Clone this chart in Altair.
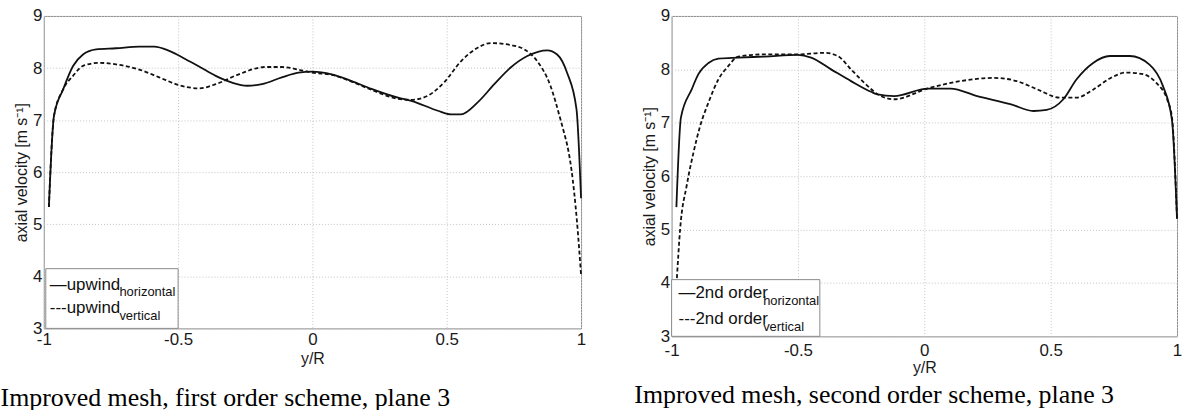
import altair as alt
import pandas as pd

# ---------------- data ----------------
# Left panel: improved mesh, first order (upwind) scheme, plane 3
up_h_x = [-0.981, -0.962, -0.928, -0.891, -0.854, -0.805, -0.731, -0.644, -0.589, -0.533,
          -0.472, -0.422, -0.360, -0.299, -0.243, -0.188, -0.114, -0.052, 0.0, 0.072,
          0.146, 0.220, 0.319, 0.368, 0.467, 0.516, 0.553, 0.615, 0.677, 0.738,
          0.800, 0.874, 0.911, 0.948, 0.983, 1.0]
up_h_v = [5.33, 7.08, 7.59, 8.04, 8.26, 8.36, 8.38, 8.41, 8.41, 8.33,
          8.17, 8.03, 7.85, 7.72, 7.66, 7.69, 7.82, 7.91, 7.93, 7.88,
          7.75, 7.60, 7.43, 7.37, 7.18, 7.11, 7.11, 7.34, 7.69, 8.01,
          8.23, 8.34, 8.26, 7.91, 7.21, 5.50]
up_v_x = [-0.981, -0.962, -0.928, -0.891, -0.854, -0.793, -0.731, -0.644, -0.570, -0.496,
          -0.422, -0.360, -0.274, -0.175, -0.114, -0.052, 0.0, 0.072, 0.146, 0.220,
          0.319, 0.368, 0.430, 0.491, 0.553, 0.615, 0.664, 0.738, 0.788, 0.837,
          0.886, 0.923, 0.933, 0.954, 0.964, 0.985, 1.0]
up_v_v = [5.33, 7.08, 7.59, 7.85, 8.04, 8.10, 8.07, 7.97, 7.82, 7.67,
          7.61, 7.69, 7.88, 8.02, 8.02, 7.97, 7.91, 7.87, 7.74, 7.58,
          7.41, 7.39, 7.47, 7.73, 8.13, 8.39, 8.48, 8.44, 8.36, 8.13,
          7.66, 7.02, 6.83, 6.38, 6.06, 5.04, 4.03]

# Right panel: improved mesh, second order scheme, plane 3
so_h_x = [-0.981, -0.963, -0.920, -0.894, -0.854, -0.815, -0.736, -0.631, -0.500, -0.448,
          -0.369, -0.290, -0.211, -0.185, -0.119, 0.012, 0.104, 0.209, 0.340, 0.432,
          0.484, 0.550, 0.602, 0.668, 0.734, 0.813, 0.891, 0.944, 0.980, 1.0]
so_h_v = [5.42, 7.10, 7.63, 7.91, 8.12, 8.20, 8.22, 8.24, 8.27, 8.22,
          8.00, 7.78, 7.58, 7.53, 7.50, 7.64, 7.64, 7.50, 7.35, 7.22,
          7.24, 7.44, 7.81, 8.12, 8.25, 8.25, 8.09, 7.69, 7.05, 5.20]
so_v_x = [-0.979, -0.966, -0.940, -0.913, -0.887, -0.854, -0.815, -0.776, -0.736, -0.631,
          -0.500, -0.395, -0.343, -0.290, -0.238, -0.172, -0.119, 0.012, 0.143, 0.274,
          0.366, 0.445, 0.537, 0.602, 0.668, 0.734, 0.799, 0.865, 0.917, 0.963,
          0.980, 1.0]
so_v_v = [4.09, 5.02, 5.83, 6.45, 6.94, 7.38, 7.81, 8.06, 8.24, 8.28,
          8.28, 8.31, 8.25, 8.00, 7.75, 7.50, 7.44, 7.64, 7.78, 7.84,
          7.78, 7.63, 7.47, 7.47, 7.62, 7.83, 7.94, 7.91, 7.75, 7.41,
          7.10, 5.20]

x_ticks = [-1, -0.5, 0, 0.5, 1]
y_ticks = [3, 4, 5, 6, 7, 8, 9]
captions = ["Improved mesh, first order scheme, plane 3",
            "Improved mesh, second order scheme, plane 3"]
legend_main = [["\u2014upwind", "---upwind"], ["\u2014" + "2nd order", "---2nd order"]]
legend_sub = [["horizontal", "vertical"], ["horizontal", "vertical"]]

SANS = "Liberation Sans"
SERIF = "Liberation Serif"


def panel(hx, hv, vx, vv, width, height, mains, subs, box, main_x, sub_x, ys,
          caption, lab_pad, title_pad, cap_offset, cap_dx):
    xenc = alt.X("x:Q", scale=alt.Scale(domain=[-1, 1], nice=False, zero=False),
                 axis=alt.Axis(values=x_ticks, title="y/R", labelExpr="toString(datum.value)",
                               labelFlush=False, labelPadding=lab_pad, titlePadding=title_pad))
    yenc = alt.Y("v:Q", scale=alt.Scale(domain=[3, 9], nice=False, zero=False),
                 axis=alt.Axis(values=y_ticks, title="axial velocity [m s\u207b\u00b9]",
                               labelExpr="toString(datum.value)",
                               labelPadding=2, titlePadding=3))
    solid = alt.Chart(pd.DataFrame({"x": hx, "v": hv})).mark_line(
        color="#111111", strokeWidth=1.8, interpolate="monotone").encode(x=xenc, y=yenc)
    dashed = alt.Chart(pd.DataFrame({"x": vx, "v": vv})).mark_line(
        color="#111111", strokeWidth=1.8, strokeDash=[4, 2.5], interpolate="monotone"
    ).encode(x="x:Q", y="v:Q")
    base = alt.Chart(pd.DataFrame({"a": [0]}))
    rect = base.mark_rect(fill="white", stroke="#8a8a8a", strokeWidth=1).encode(
        x=alt.value(box[0]), x2=alt.value(box[1]), y=alt.value(box[2]), y2=alt.value(box[3]))
    layers = [solid, dashed, rect]
    for i in range(2):
        layers.append(base.mark_text(align="left", baseline="alphabetic", font=SANS,
                                     fontSize=17, color="#111111").encode(
            x=alt.value(main_x), y=alt.value(ys[i][0]), text=alt.value(mains[i])))
        layers.append(base.mark_text(align="left", baseline="alphabetic", font=SANS,
                                     fontSize=13, color="#111111").encode(
            x=alt.value(sub_x), y=alt.value(ys[i][1]), text=alt.value(subs[i])))
    return alt.layer(*layers).properties(
        width=width, height=height,
        title=alt.TitleParams(text=caption, orient="bottom", anchor="start", frame="bounds",
                              font=SERIF, fontSize=26, fontWeight="normal", color="black",
                              offset=cap_offset, dx=cap_dx))


left = panel(up_h_x, up_h_v, up_v_x, up_v_v, 540, 314,
             legend_main[0], legend_sub[0], (2, 135, 254, 314), 6, 76,
             [(275, 281), (299, 306)], captions[0], 3, 3, 19, -13)
right = panel(so_h_x, so_h_v, so_v_x, so_v_v, 508, 322,
              legend_main[1], legend_sub[1], (0, 149, 265, 322), 7, 92,
              [(283, 290), (310, 317)], captions[1], 6, 1, 7, -7)

chart = alt.hconcat(left, right, spacing=47).properties(
    padding={"left": 0, "top": 5, "right": 0, "bottom": 0},
    background="white"
).configure_view(stroke="#8a8a8a", strokeWidth=1).configure_axis(
    labelFont=SANS, labelFontSize=17, labelColor="#1a1a1a",
    titleFont=SANS, titleFontSize=16, titleFontWeight="normal", titleColor="#1a1a1a",
    ticks=False, tickSize=0, domain=False,
    grid=True, gridColor="#c4c4c4", gridDash=[1, 2], gridWidth=1
)

chart.save("out.html", embed_options={"renderer": "svg", "actions": False})
